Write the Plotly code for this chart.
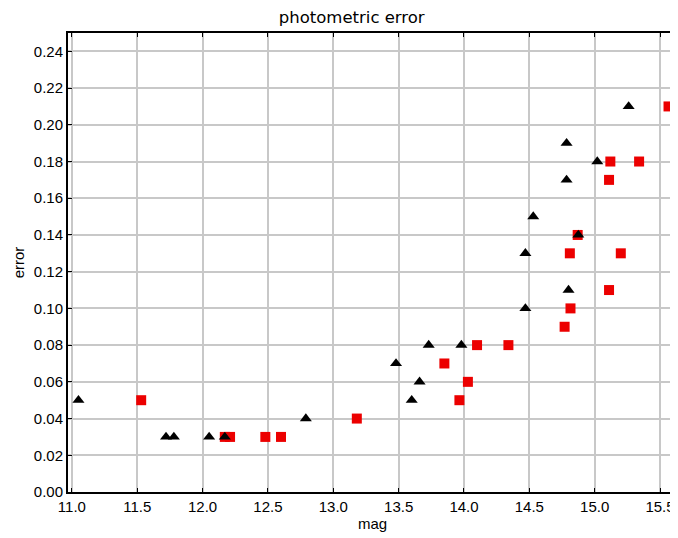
import plotly.graph_objects as go

# Black triangles series
tri_mag = [11.05, 11.72, 11.78, 12.05, 12.17, 12.79, 13.48, 13.60, 13.66, 13.73, 13.98,
           14.47, 14.47, 14.53, 14.785, 14.785, 14.80, 14.875, 15.02, 15.26]
tri_err = [0.05, 0.03, 0.03, 0.03, 0.03, 0.04, 0.07, 0.05, 0.06, 0.08, 0.08,
           0.10, 0.13, 0.15, 0.19, 0.17, 0.11, 0.14, 0.18, 0.21]

# Red squares series
sq_mag = [11.53, 12.17, 12.21, 12.48, 12.60, 13.18, 13.85, 13.965, 14.03, 14.10, 14.34,
          14.77, 14.81, 14.815, 14.87, 15.11, 15.11, 15.12, 15.20, 15.34, 15.565]
sq_err = [0.05, 0.03, 0.03, 0.03, 0.03, 0.04, 0.07, 0.05, 0.06, 0.08, 0.08,
          0.09, 0.13, 0.10, 0.14, 0.17, 0.11, 0.18, 0.13, 0.18, 0.21]

x_ticks = [11.0, 11.5, 12.0, 12.5, 13.0, 13.5, 14.0, 14.5, 15.0, 15.5]
y_ticks = [0.00, 0.02, 0.04, 0.06, 0.08, 0.10, 0.12, 0.14, 0.16, 0.18, 0.20, 0.22, 0.24]

fig = go.Figure()
fig.add_trace(go.Scatter(
    x=sq_mag, y=sq_err, mode="markers", cliponaxis=False,
    marker=dict(symbol="square", size=10, color="rgb(236,0,0)", line=dict(width=0)),
    showlegend=False))
fig.add_trace(go.Scatter(
    x=tri_mag, y=tri_err, mode="markers", cliponaxis=False,
    marker=dict(symbol="triangle-up", size=10.5, color="black", line=dict(width=0)),
    showlegend=False))

font_family = "Liberation Sans, Arial, sans-serif"
axis_common = dict(
    automargin=False,
    showgrid=True, gridcolor="#c8c8c8", gridwidth=2,
    showline=True, linecolor="black", linewidth=2, mirror="ticks",
    ticks="inside", ticklen=4, tickcolor="black", tickwidth=1,
    zeroline=False,
    tickfont=dict(family=font_family, size=15, color="black"),
)

# page body has an 8px margin, so the figure is sized/offset to compensate
fig.update_layout(
    width=670, height=530,
    margin=dict(l=60, r=1, t=25, b=46, autoexpand=False),
    paper_bgcolor="white", plot_bgcolor="white",
    title=dict(text="photometric error", x=0.513, xanchor="center", y=0.983, yanchor="middle",
               font=dict(family="DejaVu Sans, sans-serif", size=16.5, color="black")),
    xaxis=dict(range=[10.97, 15.63], tickvals=x_ticks, ticktext=[f"{v:.1f}" for v in x_ticks],
               title=dict(text="mag", standoff=2, font=dict(family=font_family, size=15, color="black")),
               **axis_common),
    yaxis=dict(range=[0, 0.25], tickvals=y_ticks, ticktext=[f"{v:.2f}" for v in y_ticks],
               title=dict(text="error", standoff=6, font=dict(family=font_family, size=15, color="black")),
               **axis_common),
)

fig.write_html("out.html")
